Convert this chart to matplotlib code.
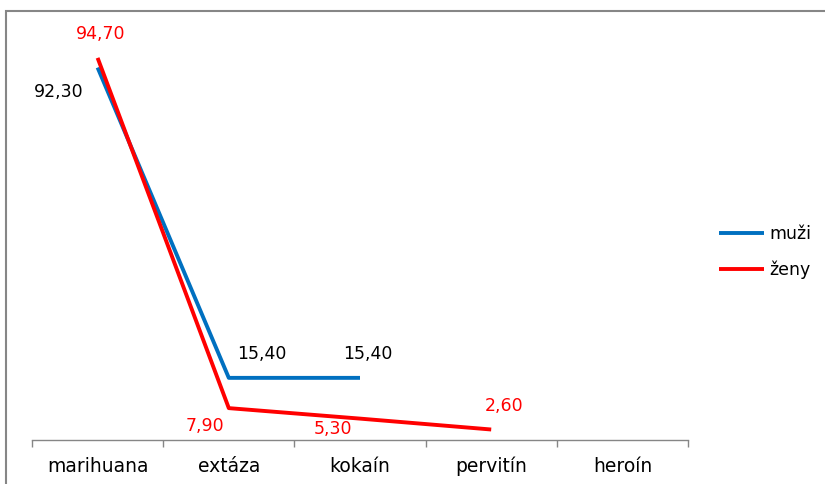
import numpy as np
import matplotlib.pyplot as plt
from matplotlib.patches import Rectangle

categories = ["marihuana", "extáza", "kokaín", "pervitín", "heroín"]
muzi = [92.30, 15.40, 15.40]
zeny = [94.70, 7.90, 5.30, 2.60]
series_names = ["muži", "ženy"]

# label offsets in pixels (dx, dy) relative to each point
muzi_offsets = [(-39, -24), (33, 24), (8, 24)]
zeny_offsets = [(3, 24), (-24, -18), (-27, -10), (13, 24)]

BLUE = "#0070C0"
RED = "#FF0000"
FS = 12.5

fig = plt.figure(figsize=(8.25, 4.84), dpi=100)
fig.patches.append(Rectangle((6 / 825, -0.5), 2, 1.5 - 11 / 484,
                             transform=fig.transFigure, fill=False,
                             edgecolor="#868686", linewidth=1.5))

ax = fig.add_axes([32 / 825, 1 - 440 / 484, (688 - 32) / 825, (440 - 36.5) / 484])

x = np.arange(len(categories))
ax.plot(x[:len(muzi)], muzi, color=BLUE, linewidth=2.8, label=series_names[0],
        solid_capstyle="butt")
ax.plot(x[:len(zeny)], zeny, color=RED, linewidth=2.8, label=series_names[1],
        solid_capstyle="butt")

for xi, v, (dx, dy) in zip(x, muzi, muzi_offsets):
    ax.annotate(f"{v:.2f}".replace(".", ","), (xi, v), xytext=(dx * 0.72, dy * 0.72),
                textcoords="offset points", ha="center", va="center",
                fontsize=FS, color="black")
for xi, v, (dx, dy) in zip(x, zeny, zeny_offsets):
    ax.annotate(f"{v:.2f}".replace(".", ","), (xi, v), xytext=(dx * 0.72, dy * 0.72),
                textcoords="offset points", ha="center", va="center",
                fontsize=FS, color=RED)

ax.set_xlim(-0.5, len(categories) - 0.5)
ax.set_ylim(0, 100)
ax.set_xticks(x)
ax.set_xticklabels(categories, fontsize=13.5)
ax.set_xticks(np.arange(len(categories) + 1) - 0.5, minor=True)
ax.tick_params(axis="x", which="major", length=0, pad=12)
ax.tick_params(axis="x", which="minor", length=5, color="#868686", width=1)
ax.set_yticks([])
for s in ["top", "right", "left"]:
    ax.spines[s].set_visible(False)
ax.spines["bottom"].set_color("#868686")
ax.spines["bottom"].set_linewidth(1)

fig.legend(loc="center left", bbox_to_anchor=(703 / 825, 1 - 252 / 484),
           frameon=False, fontsize=FS, handlelength=2.6, labelspacing=1.0,
           handletextpad=0.3)

fig.savefig("out.png", dpi=100)
